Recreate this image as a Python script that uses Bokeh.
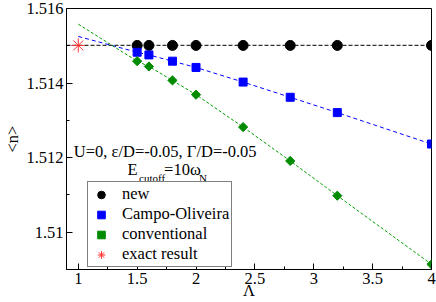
from bokeh.plotting import figure
from bokeh.models import Range1d, FixedTicker, Legend, LegendItem, Label
from bokeh.embed import file_html
from bokeh.resources import INLINE
import numpy as np

# ---- data ----
lam = [1.5, 1.6, 1.8, 2.0, 2.4, 2.8, 3.2, 4.0]
n_new = [1.51501, 1.51501, 1.51501, 1.51501, 1.51501, 1.51501, 1.51501, 1.51501]
n_campo = [1.514827, 1.514755, 1.514587, 1.514419, 1.514027, 1.513619, 1.513208, 1.512365]
n_conv = [1.514587, 1.514445, 1.514072, 1.513688, 1.512819, 1.511912, 1.510979, 1.509139]
lam_exact = [1.0]
n_exact = [1.51501]
# extrapolated values at Lambda = 1 (end of the dashed fit lines)
lam_extrap = 1.0
campo_extrap = 1.51525
conv_extrap = 1.51558

x_ticks = [1.0, 1.5, 2.0, 2.5, 3.0, 3.5, 4.0]
x_tick_labels = ["1", "1.5", "2", "2.5", "3", "3.5", "4"]
x_minor = [1.25, 1.75, 2.25, 2.75, 3.25, 3.75]
y_ticks = [1.51, 1.512, 1.514, 1.516]
y_tick_labels = ["1.51", "1.512", "1.514", "1.516"]
y_minor = [1.509, 1.511, 1.513, 1.515]

FONT = "Liberation Serif"
FS = "16.5px"

p = figure(width=436, height=302, output_backend="svg", toolbar_location=None,
           x_range=Range1d(0.9, 4.0), y_range=Range1d(1.509, 1.516),
           min_border_left=40, min_border_right=5, min_border_top=8, min_border_bottom=10)
p.xgrid.visible = False
p.ygrid.visible = False
p.outline_line_color = "black"
p.outline_line_width = 1
p.background_fill_color = "white"
p.border_fill_color = "white"

for ax, ticks, labels, minor in ((p.xaxis[0], x_ticks, x_tick_labels, x_minor),
                                 (p.yaxis[0], y_ticks, y_tick_labels, y_minor)):
    ax.ticker = FixedTicker(ticks=ticks, minor_ticks=minor)
    ax.major_label_overrides = {t: l for t, l in zip(ticks, labels)}
    ax.major_tick_in = 6
    ax.major_tick_out = 0
    ax.minor_tick_in = 3
    ax.minor_tick_out = 0
    ax.axis_line_color = "black"
    ax.major_tick_line_color = "black"
    ax.minor_tick_line_color = "black"
    ax.major_label_text_font = FONT
    ax.major_label_text_font_size = FS
    ax.major_label_text_color = "black"
    ax.axis_label_text_font = FONT
    ax.axis_label_text_font_size = FS
    ax.axis_label_text_font_style = "normal"
    ax.axis_label_text_color = "black"
    ax.major_label_standoff = 3

p.xaxis.axis_label = "Λ"
p.yaxis.axis_label = "<n>"
p.xaxis.axis_label_standoff = -6
p.yaxis.axis_label_standoff = 1

# dashed lines
x0 = p.x_range.start
p.line([x0, lam[-1]], [n_exact[0], n_exact[0]], line_color="#333333", line_width=1.3, line_dash="4 2")
p.line([lam_extrap] + lam, [campo_extrap] + n_campo, line_color="blue", line_width=1, line_dash="4 3")
p.line([lam_extrap] + lam, [conv_extrap] + n_conv, line_color="#00a000", line_width=1, line_dash="3 2")

r_new = p.scatter(lam, n_new, marker="circle", size=10, fill_color="black", line_color="black")
r_campo = p.scatter(lam, n_campo, marker="square", size=8, fill_color="blue", line_color="blue")
r_conv = p.scatter(lam, n_conv, marker="square", angle=np.pi / 4, size=6.5,
                   fill_color="#008b00", line_color="#008b00")
r_exact = p.scatter(lam_exact, n_exact, marker="asterisk", size=14, line_color="#ff3030", line_width=1)

legend = Legend(items=[LegendItem(label="new", renderers=[r_new]),
                       LegendItem(label="Campo-Oliveira", renderers=[r_campo]),
                       LegendItem(label="conventional", renderers=[r_conv]),
                       LegendItem(label="exact result", renderers=[r_exact])],
                location=(21, 2), orientation="vertical",
                label_text_font=FONT, label_text_font_size=FS, label_text_color="black",
                label_text_line_height=1.0,
                glyph_width=22, glyph_height=19, label_height=16, label_standoff=10,
                spacing=0, padding=2, margin=0,
                border_line_color="black", border_line_width=1,
                background_fill_color="white", background_fill_alpha=1.0)
p.add_layout(legend, "center")

# annotation text
ann_x = 1.738
ann_y1 = 1.51216
p.add_layout(Label(x=ann_x, y=ann_y1, text="U=0, ε/D=-0.05, Γ/D=-0.05", text_align="center",
                   text_baseline="alphabetic", text_font=FONT, text_font_size=FS, text_color="black"))
e_x = 1.419
e_y = 1.511672
pieces = [("E", 0, 0, FS), ("cutoff", 11.5, -8, "11px"), ("=10ω", 36.5, 0, FS), ("N", 71.5, -8.5, "11px")]
for txt, dx, dy, fs in pieces:
    p.add_layout(Label(x=e_x, y=e_y, x_offset=dx, y_offset=dy, text=txt, text_align="left",
                       text_baseline="alphabetic", text_font=FONT, text_font_size=fs, text_color="black"))

open("out.html", "w").write(file_html(p, INLINE))
